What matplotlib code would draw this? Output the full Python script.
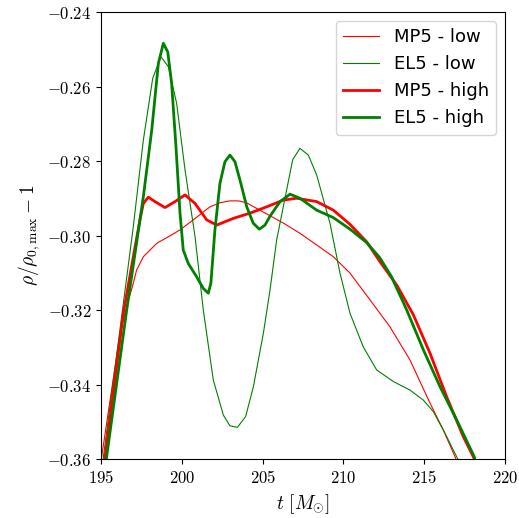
import matplotlib
matplotlib.use("Agg")
import matplotlib.pyplot as plt
from matplotlib.ticker import FuncFormatter

plt.rcParams['mathtext.fontset'] = 'cm'

# MP5 - low
t_mp5_low = [194.9, 195.04, 196.18, 196.59, 197.0, 197.2, 197.62, 198.45, 199.06, 199.89, 200.71,
             201.74, 202.36, 202.98, 203.5, 204.0, 205.25, 206.3, 207.31, 208.3, 209.38, 210.41,
             211.65, 212.88, 214.12, 215.36, 216.18, 216.91, 217.1]
v_mp5_low = [-0.365, -0.3594, -0.3262, -0.3191, -0.3128, -0.3093, -0.3057, -0.3021, -0.3006, -0.2985,
             -0.2958, -0.2923, -0.2912, -0.2907, -0.2907, -0.2912, -0.2942, -0.2967, -0.2994, -0.3024,
             -0.3057, -0.3101, -0.3173, -0.3245, -0.3334, -0.3450, -0.3522, -0.3594, -0.362]

# EL5 - low
t_el5_low = [195.0, 195.15, 197.0, 197.62, 198.2, 198.71, 199.17, 199.68, 200.2, 200.82, 201.33,
             201.95, 202.57, 202.98, 203.44, 203.95, 204.43, 205.05, 205.46, 205.87, 206.86, 207.31,
             207.83, 208.35, 209.17, 209.79, 210.41, 211.23, 212.06, 213.09, 214.12, 214.95, 215.57,
             216.29, 217.01, 217.2]
v_el5_low = [-0.365, -0.3594, -0.2976, -0.2744, -0.2578, -0.2520, -0.2547, -0.2645, -0.2824, -0.3003,
             -0.3200, -0.3388, -0.3482, -0.3511, -0.3515, -0.3486, -0.3406, -0.3262, -0.3146, -0.3012,
             -0.2797, -0.2766, -0.2784, -0.2838, -0.2967, -0.3101, -0.3209, -0.3299, -0.3361, -0.3392,
             -0.3415, -0.3442, -0.3473, -0.3531, -0.3594, -0.361]

# MP5 - high
t_mp5_high = [195.1, 195.25, 196.38, 197.0, 197.41, 197.62, 197.93, 198.34, 198.96, 199.58, 200.2,
              200.82, 201.54, 202.16, 203.19, 204.22, 205.25, 206.28, 207.1, 208.35, 209.38, 210.41,
              211.44, 212.26, 213.3, 214.33, 215.36, 216.39, 217.42, 218.04, 218.2]
v_mp5_high = [-0.365, -0.3594, -0.3209, -0.3057, -0.2958, -0.2914, -0.2897, -0.2909, -0.2925, -0.2909,
              -0.2891, -0.2914, -0.2958, -0.2972, -0.2954, -0.2940, -0.2923, -0.2905, -0.2900, -0.2909,
              -0.2932, -0.2970, -0.3017, -0.3070, -0.3133, -0.3213, -0.3316, -0.3433, -0.3540, -0.3594,
              -0.361]

# EL5 - high
t_el5_high = [195.2, 195.35, 196.59, 197.62, 198.14, 198.55, 198.86, 199.13, 199.37, 199.64, 199.89,
              200.09, 200.4, 200.92, 201.33, 201.64, 201.8, 202.05, 202.36, 202.67, 202.98, 203.29,
              203.6, 204.02, 204.42, 204.8, 205.15, 205.46, 206.08, 206.7, 207.31, 208.35, 209.38,
              210.41, 211.44, 212.26, 212.98, 213.92, 214.95, 215.98, 217.01, 218.1, 218.25]
v_el5_high = [-0.365, -0.3594, -0.3200, -0.2896, -0.2717, -0.2538, -0.2484, -0.2507, -0.2591, -0.2762,
              -0.2940, -0.3039, -0.3075, -0.3111, -0.3142, -0.3155, -0.3128, -0.2985, -0.2860, -0.2802,
              -0.2784, -0.2802, -0.2851, -0.2923, -0.2967, -0.2983, -0.2972, -0.2948, -0.2909, -0.2889,
              -0.2900, -0.2932, -0.2952, -0.2983, -0.3019, -0.3060, -0.3111, -0.3200, -0.3307, -0.3406,
              -0.3495, -0.3594, -0.362]

fig = plt.figure(figsize=(5.19, 5.18), dpi=100)
ax = fig.add_axes([0.1946, 0.1139, 0.7784, 0.8629])

ax.plot(t_mp5_low, v_mp5_low, color='red', lw=0.8, label='MP5 - low')
ax.plot(t_el5_low, v_el5_low, color='green', lw=0.8, label='EL5 - low')
ax.plot(t_mp5_high, v_mp5_high, color='red', lw=2.0, label='MP5 - high')
ax.plot(t_el5_high, v_el5_high, color='green', lw=2.0, label='EL5 - high')

ax.set_xlim(195, 220)
ax.set_ylim(-0.36, -0.24)
ax.set_xticks([195, 200, 205, 210, 215, 220])
ax.set_yticks([-0.36, -0.34, -0.32, -0.30, -0.28, -0.26, -0.24])
ax.xaxis.set_major_formatter(FuncFormatter(lambda v, p: r'$%d$' % v))
ax.yaxis.set_major_formatter(FuncFormatter(lambda v, p: r'$%.2f$' % v))
ax.tick_params(labelsize=12)
ax.set_xlabel(r'$t\ [M_{\odot}]$', fontsize=14)
ax.set_ylabel(r'$\rho/\rho_{0,\mathrm{max}} - 1$', fontsize=14)
ax.legend(loc='upper right', fontsize=13, handlelength=2.0)

fig.savefig('out.png', dpi=100)
